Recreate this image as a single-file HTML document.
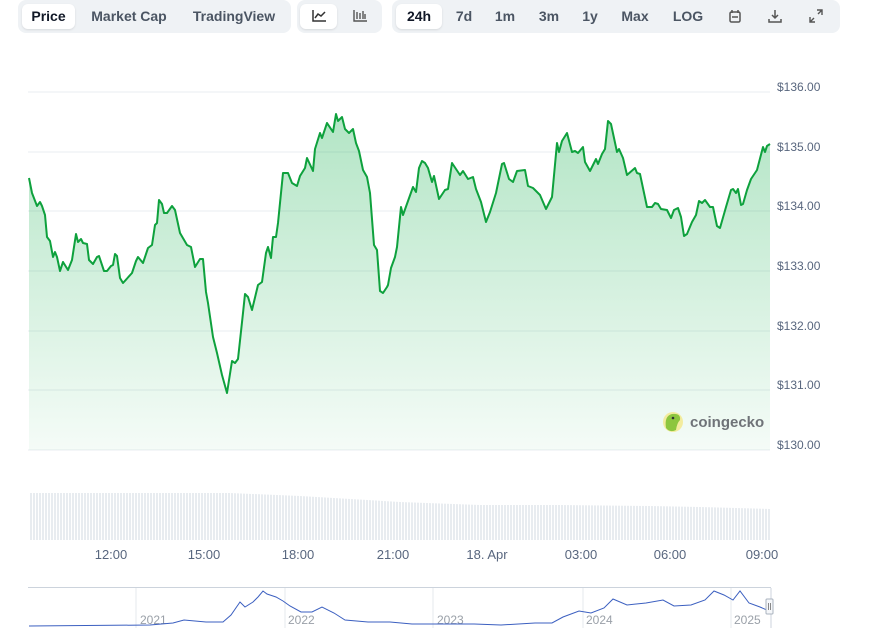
<!DOCTYPE html>
<html><head><meta charset="utf-8"><style>
body{margin:0;width:869px;height:641px;background:#fff;font-family:"Liberation Sans",sans-serif;overflow:hidden;position:relative}
.g{position:absolute;top:0;height:33px;background:#eff2f5;border-radius:8px}
.b{position:absolute;top:4px;height:25px;line-height:25px;font-size:14px;font-weight:600;color:#4b5563;text-align:center}
.w{background:#fff;border-radius:6px;color:#111827;box-shadow:0 1px 2px rgba(0,0,0,.1)}
</style></head><body>
<div class="g" style="left:18px;width:273px"></div>
<div class="b w" style="left:22px;width:53px">Price</div>
<div class="b" style="left:82px;width:94px">Market Cap</div>
<div class="b" style="left:184px;width:100px">TradingView</div>
<div class="g" style="left:297px;width:85px"></div>
<div class="b w" style="left:300px;width:37px"><svg width="16" height="14" style="margin-top:5px"><path d="M2 1V12H15" stroke="#333" stroke-width="1.5" fill="none"/><path d="M4 9L7 5L10 7L14 3" stroke="#333" stroke-width="1.5" fill="none"/></svg></div>
<div class="b" style="left:342px;width:35px"><svg width="16" height="14" style="margin-top:5px"><path d="M2 1V12H15M5 3V10M8 4V10M11 2V10M13 5V10" stroke="#555" stroke-width="1.4" fill="none"/></svg></div>
<div class="g" style="left:392px;width:448px"></div>
<div class="b w" style="left:396px;width:46px">24h</div>
<div class="b" style="left:449px;width:30px">7d</div>
<div class="b" style="left:490px;width:30px">1m</div>
<div class="b" style="left:533px;width:32px">3m</div>
<div class="b" style="left:576px;width:28px">1y</div>
<div class="b" style="left:614px;width:42px">Max</div>
<div class="b" style="left:667px;width:42px">LOG</div>
<div class="b" style="left:722px;width:26px"><svg width="14" height="14" style="margin-top:5px"><rect x="2" y="3" width="10" height="10" rx="1.5" stroke="#555" stroke-width="1.5" fill="none"/><path d="M4 1V4M10 1V4M4 8H10" stroke="#555" stroke-width="1.5"/></svg></div>
<div class="b" style="left:762px;width:26px"><svg width="14" height="14" style="margin-top:5px"><path d="M7 1V9M4 6L7 9L10 6M1 10V13H13V10" stroke="#555" stroke-width="1.5" fill="none"/></svg></div>
<div class="b" style="left:803px;width:26px"><svg width="14" height="14" style="margin-top:5px"><path d="M8 1H13V6M13 1L9 5M6 13H1V8M1 13L5 9" stroke="#555" stroke-width="1.4" fill="none"/></svg></div>

<svg width="869" height="641" style="position:absolute;left:0;top:0" font-family="Liberation Sans, sans-serif">
<defs><linearGradient id="f" x1="0" y1="0" x2="0" y2="1"><stop offset="0" stop-color="#00a83e" stop-opacity=".3"/><stop offset="1" stop-color="#00a83e" stop-opacity=".04"/></linearGradient>
<pattern id="vb" width="3" height="10" patternUnits="userSpaceOnUse"><rect width="2" height="10" fill="#e8ecf0"/></pattern></defs>
<g stroke="#e9edf1" stroke-width="1">
<line x1="28" x2="770" y1="92" y2="92"/><line x1="28" x2="770" y1="152" y2="152"/><line x1="28" x2="770" y1="211" y2="211"/><line x1="28" x2="770" y1="271" y2="271"/><line x1="28" x2="770" y1="331" y2="331"/><line x1="28" x2="770" y1="390" y2="390"/><line x1="28" x2="770" y1="450" y2="450"/></g>
<g font-size="12" fill="#58667e">
<text x="777" y="91">$136.00</text><text x="777" y="151">$135.00</text><text x="777" y="210">$134.00</text><text x="777" y="270">$133.00</text><text x="777" y="330">$132.00</text><text x="777" y="389">$131.00</text><text x="777" y="449">$130.00</text></g>
<polygon id="p" fill="url(#f)" points="29,450 29,178 32,193 37,206 40,202 42,206 45,215 47,237 50,241 53,257 55,252 57,257 60,271 63,262 68,270 72,260 76,234 78,242 81,239 83,243 87,244 89,260 93,264 97,257 99,256 104,271 107,271 111,266 113,265 115,254 117,256 120,278 123,283 132,273 136,261 138,257 143,263 148,248 152,245 155,225 157,223 159,200 162,204 164,213 167,213 172,206 175,210 180,233 187,245 191,247 195,267 200,259 203,259 206,292 208,303 213,337 217,353 222,375 227,393 232,361 235,363 238,359 243,313 245,294 248,297 252,310 258,285 262,282 266,253 268,247 271,258 273,237 276,237 278,223 283,173 288,173 292,183 297,186 300,176 305,168 307,158 313,171 315,149 320,133 322,138 327,123 333,132 336,114 338,121 342,117 345,129 349,133 353,129 356,143 359,151 363,170 367,177 370,193 374,245 377,250 380,291 383,293 387,287 388,285 391,268 395,257 397,247 401,207 403,215 413,187 416,192 419,168 422,161 425,163 428,168 432,182 434,176 439,199 445,190 448,189 452,163 456,169 460,175 463,171 468,179 473,177 476,189 481,202 486,222 490,212 496,193 502,164 504,163 509,179 513,182 517,171 525,170 528,186 533,188 540,195 546,209 552,197 557,143 559,152 562,141 567,133 572,152 575,151 578,153 583,147 585,162 590,171 596,159 598,164 602,154 605,149 608,121 611,124 617,152 619,149 623,158 627,175 635,168 637,173 640,174 647,207 652,207 655,203 658,204 661,209 667,210 671,218 674,210 678,208 681,217 684,236 687,234 692,222 696,215 699,201 702,203 705,200 710,207 713,207 717,226 720,228 726,207 731,190 733,189 736,193 738,189 741,205 743,204 747,190 751,179 755,173 757,170 763,147 765,152 767,146 770,144 770,450"/>
<polyline fill="none" stroke="#0ea13d" stroke-width="2" stroke-linejoin="round" points="29,178 32,193 37,206 40,202 42,206 45,215 47,237 50,241 53,257 55,252 57,257 60,271 63,262 68,270 72,260 76,234 78,242 81,239 83,243 87,244 89,260 93,264 97,257 99,256 104,271 107,271 111,266 113,265 115,254 117,256 120,278 123,283 132,273 136,261 138,257 143,263 148,248 152,245 155,225 157,223 159,200 162,204 164,213 167,213 172,206 175,210 180,233 187,245 191,247 195,267 200,259 203,259 206,292 208,303 213,337 217,353 222,375 227,393 232,361 235,363 238,359 243,313 245,294 248,297 252,310 258,285 262,282 266,253 268,247 271,258 273,237 276,237 278,223 283,173 288,173 292,183 297,186 300,176 305,168 307,158 313,171 315,149 320,133 322,138 327,123 333,132 336,114 338,121 342,117 345,129 349,133 353,129 356,143 359,151 363,170 367,177 370,193 374,245 377,250 380,291 383,293 387,287 388,285 391,268 395,257 397,247 401,207 403,215 413,187 416,192 419,168 422,161 425,163 428,168 432,182 434,176 439,199 445,190 448,189 452,163 456,169 460,175 463,171 468,179 473,177 476,189 481,202 486,222 490,212 496,193 502,164 504,163 509,179 513,182 517,171 525,170 528,186 533,188 540,195 546,209 552,197 557,143 559,152 562,141 567,133 572,152 575,151 578,153 583,147 585,162 590,171 596,159 598,164 602,154 605,149 608,121 611,124 617,152 619,149 623,158 627,175 635,168 637,173 640,174 647,207 652,207 655,203 658,204 661,209 667,210 671,218 674,210 678,208 681,217 684,236 687,234 692,222 696,215 699,201 702,203 705,200 710,207 713,207 717,226 720,228 726,207 731,190 733,189 736,193 738,189 741,205 743,204 747,190 751,179 755,173 757,170 763,147 765,152 767,146 770,144"/>
<circle cx="673" cy="422" r="10" fill="#f3ec9e"/><path d="M666 428 Q664 416 672 414 Q681 413 680 420 Q677 423 676 430 Q670 433 666 428Z" fill="#8dc63f"/><circle cx="673" cy="418" r="1.3" fill="#333"/>
<text x="690" y="427" font-size="15" font-weight="bold" fill="#6f7378">coingecko</text>
<polygon fill="url(#vb)" points="29,540 29,493 230,493 300,496 400,502 480,505 560,505 650,506 700,507 770,509 770,540"/>
<g font-size="13" fill="#58667e" text-anchor="middle">
<text x="111" y="559">12:00</text><text x="204" y="559">15:00</text><text x="298" y="559">18:00</text><text x="393" y="559">21:00</text><text x="487" y="559">18. Apr</text><text x="581" y="559">03:00</text><text x="670" y="559">06:00</text><text x="762" y="559">09:00</text></g>
<line x1="28" x2="771" y1="587.5" y2="587.5" stroke="#ccd3dc"/>
<g stroke="#e6e9ee"><line x1="136" x2="136" y1="588" y2="628"/><line x1="285" x2="285" y1="588" y2="628"/><line x1="433" x2="433" y1="588" y2="628"/><line x1="583" x2="583" y1="588" y2="628"/><line x1="731" x2="731" y1="588" y2="628"/><line x1="771" x2="771" y1="588" y2="628" stroke="#ccd3dc"/></g>
<g font-size="12" fill="#9aa0a8"><text x="140" y="624">2021</text><text x="288" y="624">2022</text><text x="437" y="624">2023</text><text x="586" y="624">2024</text><text x="734" y="624">2025</text></g>
<polyline fill="none" stroke="#3b5fc0" stroke-width="1" points="29,626 150,625 173,623 184,620 195,621 206,622 223,622 231,615 240,602 245,607 253,602 258,597 263,591 267,594 270,595 276,597 283,601 290,606 301,612 312,612 322,607 334,613 345,620 368,622 390,622 412,624 440,624 474,624 501,625 535,623 552,623 563,617 579,611 591,613 604,608 613,599 627,605 646,603 663,600 674,606 691,605 705,600 714,591 724,595 733,600 740,591 749,603 760,607 769,611"/>
<rect x="766" y="599" width="7" height="15" rx="1" fill="#f5f7fa" stroke="#aab3bf"/>
<line x1="768.5" x2="768.5" y1="603" y2="610" stroke="#888"/><line x1="770.5" x2="770.5" y1="603" y2="610" stroke="#888"/>
</svg>
</body></html>
